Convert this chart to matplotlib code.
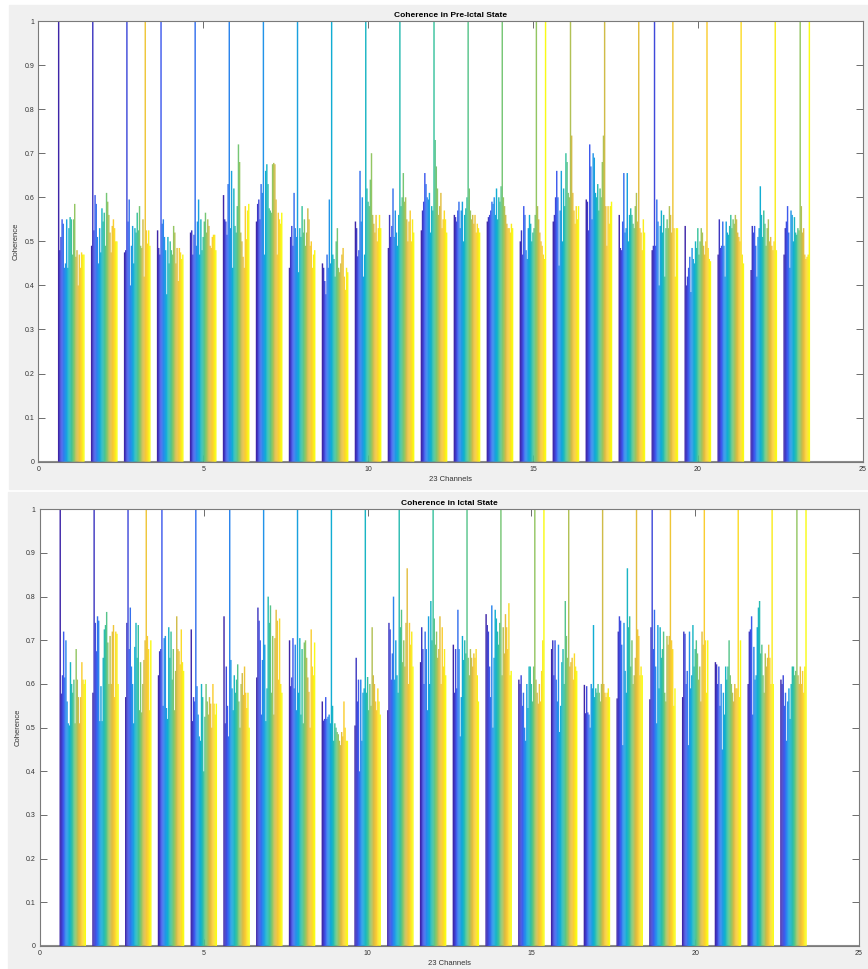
"""Coherencia entre 23 canales: estado pre-ictal vs ictal (barras agrupadas)."""

import numpy as np
import matplotlib
matplotlib.use("Agg")
import matplotlib.pyplot as plt
from matplotlib.colors import LinearSegmentedColormap
from matplotlib.patches import Rectangle

# --- Datos (fila i = grupo/canal i, columna j = serie j) ---
channels = list(range(1, 24))

pre_ictal = [
    [1.00, 0.48, 0.51, 0.55, 0.54, 0.44, 0.45, 0.55, 0.44, 0.53, 0.555, 0.55, 0.47, 0.55, 0.585, 0.465, 0.48, 0.40, 0.47, 0.44, 0.475, 0.47, 0.47],
    [0.49, 1.00, 0.525, 0.605, 0.585, 0.51, 0.45, 0.53, 0.475, 0.575, 0.545, 0.565, 0.49, 0.61, 0.59, 0.56, 0.52, 0.475, 0.535, 0.55, 0.53, 0.50, 0.50],
    [0.475, 0.48, 1.00, 0.545, 0.595, 0.40, 0.49, 0.535, 0.45, 0.53, 0.52, 0.565, 0.525, 0.58, 0.49, 0.485, 0.55, 0.42, 1.00, 0.525, 0.495, 0.525, 0.49],
    [0.525, 0.485, 0.47, 1.00, 0.54, 0.55, 0.51, 0.48, 0.38, 0.51, 0.45, 0.50, 0.48, 0.47, 0.535, 0.52, 0.45, 0.485, 0.41, 0.485, 0.475, 0.46, 0.47],
    [0.52, 0.525, 0.47, 0.515, 1.00, 0.49, 0.545, 0.595, 0.47, 0.55, 0.48, 0.51, 0.545, 0.565, 0.52, 0.55, 0.535, 0.49, 0.485, 0.51, 0.515, 0.515, 0.48],
    [0.605, 0.55, 0.545, 0.515, 0.63, 1.00, 0.53, 0.66, 0.44, 0.62, 0.535, 0.52, 0.58, 0.72, 0.68, 0.52, 0.50, 0.465, 0.44, 0.58, 0.505, 0.57, 0.585],
    [0.545, 0.585, 0.595, 0.55, 0.63, 0.61, 1.00, 0.47, 0.66, 0.675, 0.63, 0.575, 0.57, 0.565, 0.675, 0.678, 0.675, 0.595, 0.47, 0.565, 0.55, 0.54, 0.565],
    [0.44, 0.51, 0.535, 0.49, 0.61, 0.53, 0.51, 1.00, 0.43, 0.53, 0.51, 0.58, 0.52, 0.55, 0.49, 0.52, 0.575, 0.55, 0.49, 0.50, 0.44, 0.47, 0.48],
    [0.45, 0.44, 0.41, 0.38, 0.47, 0.44, 0.595, 0.45, 1.00, 0.47, 0.46, 0.42, 0.50, 0.53, 0.44, 0.43, 0.45, 0.47, 0.485, 0.42, 0.39, 0.44, 0.43],
    [0.545, 0.53, 0.466, 0.48, 0.66, 0.545, 0.60, 0.42, 0.47, 1.00, 0.62, 0.59, 0.58, 0.64, 0.70, 0.56, 0.54, 0.52, 0.56, 0.50, 0.53, 0.56, 0.53],
    [0.485, 0.56, 0.51, 0.535, 0.62, 0.51, 0.57, 0.52, 0.49, 0.56, 1.00, 0.58, 0.60, 0.655, 0.59, 0.60, 0.55, 0.50, 0.545, 0.57, 0.50, 0.55, 0.52],
    [0.525, 0.57, 0.59, 0.655, 0.63, 0.60, 0.595, 0.61, 0.52, 0.58, 0.57, 1.00, 0.73, 0.67, 0.62, 0.56, 0.58, 0.61, 0.53, 0.55, 0.57, 0.55, 0.52],
    [0.56, 0.555, 0.545, 0.57, 0.59, 0.53, 0.57, 0.59, 0.50, 0.56, 0.575, 0.60, 1.00, 0.62, 0.57, 0.55, 0.56, 0.54, 0.56, 0.52, 0.54, 0.53, 0.52],
    [0.545, 0.555, 0.56, 0.57, 0.59, 0.585, 0.60, 0.56, 0.62, 0.55, 0.60, 0.59, 0.625, 1.00, 0.60, 0.58, 0.56, 0.54, 0.53, 0.53, 0.52, 0.54, 0.53],
    [0.50, 0.525, 0.47, 0.58, 0.56, 0.48, 0.46, 0.53, 0.56, 0.54, 0.50, 0.52, 0.53, 0.56, 1.00, 0.58, 0.55, 0.52, 0.50, 0.49, 0.47, 0.46, 1.00],
    [0.545, 0.56, 0.60, 0.66, 0.60, 0.445, 0.57, 0.66, 0.50, 0.62, 0.58, 0.70, 0.68, 0.61, 0.60, 1.00, 0.74, 0.61, 0.57, 0.54, 0.58, 0.55, 0.58],
    [0.595, 0.59, 0.525, 0.72, 0.67, 0.55, 0.70, 0.69, 0.61, 0.60, 0.63, 0.57, 0.62, 0.60, 0.68, 0.74, 1.00, 0.58, 0.49, 0.58, 0.54, 0.58, 0.59],
    [0.56, 0.485, 0.48, 0.545, 0.655, 0.52, 0.53, 0.655, 0.50, 0.56, 0.575, 0.56, 0.54, 0.53, 0.58, 0.61, 0.545, 1.00, 0.53, 0.52, 0.48, 0.55, 0.52],
    [0.48, 0.49, 1.00, 0.49, 0.595, 0.545, 0.40, 0.535, 0.57, 0.52, 0.56, 0.42, 0.53, 0.55, 0.53, 0.58, 0.56, 0.52, 1.00, 0.53, 0.42, 0.53, 0.53],
    [0.535, 0.40, 0.42, 0.44, 0.465, 0.385, 0.485, 0.46, 0.45, 0.50, 0.485, 0.53, 0.47, 0.50, 0.53, 0.52, 0.49, 0.47, 0.50, 1.00, 0.485, 0.46, 0.455],
    [0.47, 0.55, 0.485, 0.49, 0.545, 0.49, 0.42, 0.545, 0.52, 0.515, 0.535, 0.56, 0.53, 0.55, 0.54, 0.56, 0.55, 0.52, 0.51, 0.50, 1.00, 0.47, 0.45],
    [0.435, 0.535, 0.52, 0.535, 0.49, 0.42, 0.51, 0.53, 0.625, 0.56, 0.51, 0.57, 0.54, 0.49, 0.53, 0.55, 0.50, 0.51, 0.49, 0.48, 0.50, 1.00, 0.48],
    [0.47, 0.53, 0.545, 0.58, 0.52, 0.44, 0.57, 0.56, 0.50, 0.555, 0.52, 0.515, 0.53, 0.525, 1.00, 0.58, 0.52, 0.53, 0.47, 0.46, 0.465, 0.47, 1.00],
]

ictal = [
    [1.00, 0.578, 0.62, 0.72, 0.615, 0.70, 0.56, 0.51, 0.505, 0.65, 0.60, 0.58, 0.61, 0.51, 0.68, 0.61, 0.57, 0.51, 0.57, 0.65, 0.61, 0.60, 0.61],
    [0.58, 1.00, 0.74, 0.675, 0.755, 0.745, 0.515, 0.595, 0.515, 0.66, 0.725, 0.735, 0.765, 0.695, 0.60, 0.71, 0.60, 0.72, 0.735, 0.57, 0.72, 0.715, 0.60],
    [0.57, 0.74, 1.00, 0.68, 0.775, 0.64, 0.60, 0.51, 0.685, 0.74, 0.66, 0.735, 0.54, 0.65, 0.535, 0.60, 0.655, 0.70, 1.00, 0.71, 0.68, 0.54, 0.70],
    [0.62, 0.675, 0.68, 1.00, 0.55, 0.705, 0.71, 0.545, 0.52, 0.73, 0.66, 0.72, 0.61, 0.68, 0.54, 0.63, 0.755, 0.68, 0.675, 0.645, 0.725, 0.65, 0.63],
    [0.725, 0.515, 0.57, 0.56, 1.00, 0.595, 0.53, 0.48, 0.47, 0.60, 0.57, 0.40, 0.525, 0.60, 0.56, 0.53, 0.57, 0.555, 0.50, 0.60, 0.555, 0.53, 0.555],
    [0.755, 0.51, 0.64, 0.55, 0.48, 1.00, 0.655, 0.59, 0.54, 0.62, 0.58, 0.61, 0.645, 0.56, 0.50, 0.60, 0.625, 0.575, 0.64, 0.58, 0.545, 0.58, 0.50],
    [0.615, 0.775, 0.745, 0.70, 0.53, 0.655, 1.00, 0.69, 0.515, 0.59, 0.80, 0.74, 0.78, 0.58, 0.71, 0.53, 0.705, 0.77, 0.745, 0.61, 0.75, 0.60, 0.58],
    [0.70, 0.595, 0.615, 0.705, 0.59, 0.69, 0.54, 1.00, 0.58, 0.705, 0.53, 0.68, 0.51, 0.695, 0.70, 0.66, 0.615, 0.582, 0.50, 0.725, 0.64, 0.62, 0.695],
    [0.56, 0.516, 0.52, 0.57, 0.52, 0.525, 0.53, 0.51, 1.00, 0.55, 0.47, 0.51, 0.50, 0.49, 0.485, 0.47, 0.46, 0.49, 0.48, 0.56, 0.50, 0.47, 0.47],
    [0.505, 0.66, 0.56, 0.61, 0.40, 0.61, 0.47, 0.58, 0.59, 1.00, 0.58, 0.616, 0.54, 0.60, 0.55, 0.73, 0.62, 0.60, 0.56, 0.54, 0.59, 0.56, 0.53],
    [0.54, 0.74, 0.725, 0.61, 0.67, 0.80, 0.61, 0.70, 0.62, 0.58, 1.00, 0.73, 0.77, 0.65, 0.70, 0.64, 0.74, 0.865, 0.60, 0.74, 0.69, 0.72, 0.64],
    [0.65, 0.73, 0.68, 0.60, 0.72, 0.68, 0.54, 0.755, 0.60, 0.79, 0.70, 1.00, 0.75, 0.69, 0.72, 0.66, 0.68, 0.755, 0.60, 0.73, 0.64, 0.68, 0.62],
    [0.69, 0.58, 0.68, 0.59, 0.77, 0.68, 0.48, 0.57, 0.71, 0.655, 0.70, 0.67, 1.00, 0.66, 0.62, 0.68, 0.66, 0.64, 0.67, 0.66, 0.68, 0.62, 0.56],
    [0.76, 0.735, 0.72, 0.64, 0.57, 0.78, 0.50, 0.66, 0.77, 0.75, 0.72, 0.69, 0.74, 1.00, 0.62, 0.73, 0.67, 0.76, 0.73, 0.68, 0.785, 0.62, 0.63],
    [0.61, 0.60, 0.62, 0.55, 0.58, 0.50, 0.47, 0.60, 0.545, 0.64, 0.64, 0.60, 0.56, 0.64, 1.00, 0.61, 0.58, 0.555, 0.60, 0.56, 0.63, 0.70, 1.00],
    [0.68, 0.70, 0.62, 0.70, 0.61, 0.56, 0.69, 0.49, 0.55, 0.65, 0.68, 0.60, 0.79, 0.71, 0.66, 1.00, 0.64, 0.65, 0.66, 0.61, 0.67, 0.64, 0.63],
    [0.598, 0.533, 0.595, 0.535, 0.53, 0.50, 0.60, 0.59, 0.735, 0.57, 0.59, 0.58, 0.60, 0.58, 0.56, 0.60, 1.00, 0.60, 0.58, 0.57, 0.58, 0.59, 0.57],
    [0.567, 0.72, 0.755, 0.745, 0.69, 0.46, 0.74, 0.63, 0.58, 0.865, 0.73, 0.755, 0.64, 0.70, 0.60, 0.62, 0.66, 1.00, 0.725, 0.71, 0.62, 0.64, 0.62],
    [0.565, 0.73, 1.00, 0.68, 0.77, 0.64, 0.51, 0.735, 0.59, 0.73, 0.66, 0.68, 0.72, 0.58, 0.56, 0.71, 0.69, 0.71, 1.00, 0.70, 0.68, 0.55, 0.59],
    [0.57, 0.72, 0.715, 0.60, 0.63, 0.46, 0.72, 0.59, 0.62, 0.735, 0.64, 0.68, 0.70, 0.67, 0.61, 0.64, 0.56, 0.72, 0.69, 1.00, 0.70, 0.58, 0.70],
    [0.65, 0.645, 0.60, 0.64, 0.55, 0.60, 0.45, 0.58, 0.53, 0.64, 0.61, 0.64, 0.70, 0.62, 0.60, 0.58, 0.56, 0.60, 0.59, 0.59, 1.00, 0.57, 0.70],
    [0.60, 0.72, 0.725, 0.755, 0.53, 0.685, 0.61, 0.62, 0.73, 0.775, 0.79, 0.67, 0.69, 0.62, 0.58, 0.67, 0.64, 0.66, 0.69, 0.66, 0.60, 1.00, 0.60],
    [0.61, 0.60, 0.62, 0.55, 0.58, 0.47, 0.56, 0.59, 0.52, 0.60, 0.64, 0.64, 0.62, 0.63, 1.00, 0.62, 0.60, 0.64, 0.60, 0.63, 0.58, 0.64, 1.00],
]

titles = ["Coherence in Pre-Ictal State", "Coherence in Ictal State"]
x_ticks = [0, 5, 10, 15, 20, 25]
y_ticks = [0, 0.1, 0.2, 0.3, 0.4, 0.5, 0.6, 0.7, 0.8, 0.9, 1]
y_tick_labels = ["0", "0.1", "0.2", "0.3", "0.4", "0.5", "0.6", "0.7", "0.8", "0.9", "1"]

# Aproximacion del mapa de colores "parula" de MATLAB
parula = LinearSegmentedColormap.from_list("parula", [
    (0.2422, 0.1504, 0.6603), (0.2500, 0.3400, 0.9300), (0.1500, 0.5600, 0.9300),
    (0.0600, 0.6900, 0.8200), (0.2200, 0.7600, 0.6200), (0.5500, 0.7800, 0.4000),
    (0.8700, 0.7300, 0.2600), (0.9900, 0.8100, 0.1900), (0.9769, 0.9839, 0.0805),
])

plt.rcParams["font.family"] = ["Liberation Sans", "DejaVu Sans"]

W, H = 868, 969
fig = plt.figure(figsize=(W / 100, H / 100), dpi=100, facecolor="white")

# Fondos grises de las dos capturas de MATLAB
fig.patches.append(Rectangle((9 / W, 1 - 489 / H), 1, (489 - 5) / H,
                             transform=fig.transFigure, color="#f0f0f0", zorder=-10))
fig.patches.append(Rectangle((8 / W, 0), 1, 1 - 492 / H,
                             transform=fig.transFigure, color="#f0f0f0", zorder=-10))

axes_pos = [
    [38.3 / W, (H - 461.7) / H, (862.7 - 38.3) / W, (461.7 - 21) / H],
    [40 / W, (H - 946) / H, (859 - 40) / W, (946 - 509.3) / H],
]

n_groups = len(channels)
n_series = n_groups
slot = 0.8 / n_series
offsets = -0.4 + slot * (np.arange(n_series) + 0.5)
colors = parula(np.linspace(0, 1, n_series))
grupos = np.array(channels, dtype=float)

for datos, titulo, pos in zip([pre_ictal, ictal], titles, axes_pos):
    ax = fig.add_axes(pos)
    M = np.array(datos)
    for j in range(n_series):
        # un poco mas ancho que la ranura para que no queden rendijas blancas
        barras = ax.bar(grupos + offsets[j], M[:, j], width=slot * 1.25,
                        color=colors[j], linewidth=0, zorder=2)
        for b in barras:
            b.set_snap(False)
    ax.axhline(0, color="#8c8c8c", lw=1.5, zorder=1)

    ax.set_xlim(0, 25)
    ax.set_ylim(0, 1)
    ax.set_xticks(x_ticks)
    ax.set_yticks(y_ticks)
    ax.set_yticklabels(y_tick_labels)
    ax.tick_params(direction="in", length=5, width=0.6, colors="#555555",
                   labelcolor="#333333", labelsize=5, pad=3,
                   top=True, right=True)
    for s in ax.spines.values():
        s.set_color("#7a7a7a")
        s.set_linewidth(0.8)
    ax.set_title(titulo, fontsize=6, fontweight="bold", pad=3)
    ax.set_xlabel("23 Channels", fontsize=5.5, color="#333333", labelpad=2)
    ax.set_ylabel("Coherence", fontsize=5.5, color="#333333", labelpad=3)

fig.savefig("out.png", dpi=100, facecolor=fig.get_facecolor())
